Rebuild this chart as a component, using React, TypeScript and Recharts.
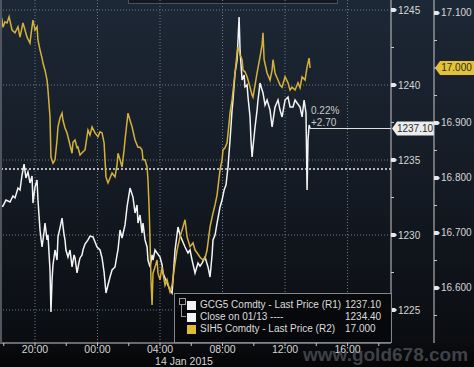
import { LineChart, Line, XAxis, YAxis, ReferenceLine } from 'recharts';

// hours relative to 00:00 on 14 Jan 2015
const goldTimes = [
  -6.24, -6.05, -5.86, -5.6, -5.41, -5.28, -5.09, -4.96, -4.83, -4.7, -4.58, -4.45, -4.32, -4.19, -4.13, -4.0,
  -3.87, -3.81, -3.68, -3.55, -3.42, -3.36, -3.23, -3.17, -3.04, -2.98, -2.91, -2.85, -2.72, -2.59, -2.53, -2.4,
  -2.27, -2.14, -2.08, -2.02, -1.89, -1.76, -1.63, -1.5, -1.44, -1.31, -1.18, -1.12, -0.99, -0.93, -0.8, -0.61,
  -0.48, -0.29, -0.16, -0.03, 0.16, 0.29, 0.42, 0.54, 0.67, 0.8, 0.93, 1.12, 1.25, 1.31, 1.44, 1.57, 1.76, 1.89,
  2.08, 2.27, 2.4, 2.53, 2.59, 2.72, 2.85, 2.91, 3.04, 3.17, 3.23, 3.36, 3.49, 3.55, 3.68, 3.81, 4.0, 4.13, 4.19,
  4.32, 4.45, 4.64, 4.77, 4.83, 4.96, 5.15, 5.28, 5.41, 5.6, 5.79, 5.92, 6.05, 6.24, 6.43, 6.56, 6.69, 6.88, 7.07,
  7.2, 7.33, 7.39, 7.52, 7.65, 7.84, 7.97, 8.1, 8.22, 8.35, 8.48, 8.61, 8.67, 8.8, 8.93, 8.99, 9.06, 9.12, 9.25,
  9.38, 9.44, 9.57, 9.63, 9.76, 9.82, 9.89, 9.95, 10.08, 10.21, 10.27, 10.4, 10.53, 10.59, 10.72, 10.85, 11.04,
  11.17, 11.36, 11.55, 11.68, 11.81, 12.0, 12.19, 12.32, 12.51, 12.64, 12.77, 12.96, 13.09, 13.22, 13.34, 13.41,
  13.47, 13.54, 13.6,
];
const goldPrices = [
  1231.87, 1231.93, 1232.33, 1232.2, 1232.6, 1232.47, 1233.13, 1233.0, 1234.0, 1234.73, 1233.8, 1234.2, 1233.47,
  1233.93, 1232.13, 1233.2, 1233.67, 1232.33, 1230.33, 1229.2, 1230.2, 1230.8, 1229.67, 1230.0, 1227.67, 1224.87,
  1227.0, 1228.0, 1229.0, 1228.33, 1229.87, 1230.47, 1231.13, 1230.0, 1229.67, 1229.0, 1228.53, 1229.0, 1227.87,
  1228.67, 1228.47, 1227.47, 1228.2, 1228.47, 1228.67, 1229.0, 1229.4, 1229.67, 1229.93, 1229.87, 1229.53, 1229.2,
  1229.0, 1228.47, 1227.53, 1226.13, 1226.67, 1227.2, 1227.67, 1227.87, 1228.67, 1229.0, 1230.33, 1229.8, 1230.67,
  1231.87, 1233.13, 1232.53, 1231.47, 1232.0, 1230.8, 1231.33, 1230.13, 1230.8, 1229.67, 1229.2, 1228.33, 1227.87,
  1228.67, 1228.33, 1229.0, 1228.8, 1228.53, 1228.0, 1227.47, 1227.13, 1226.8, 1226.33, 1226.13, 1227.0, 1229.0,
  1230.53, 1230.0, 1229.67, 1229.2, 1228.8, 1229.0, 1228.33, 1227.47, 1228.13, 1227.93, 1228.13, 1228.53, 1227.87,
  1227.2, 1228.67, 1229.67, 1230.0, 1230.8, 1231.87, 1232.33, 1233.0, 1233.33, 1234.53, 1236.33, 1238.33, 1239.0,
  1240.8, 1241.67, 1243.0, 1244.53, 1242.33, 1240.33, 1240.67, 1239.87, 1240.0, 1239.2, 1237.87, 1236.33, 1235.2,
  1235.87, 1237.2, 1238.33, 1239.0, 1240.13, 1239.67, 1239.47, 1238.67, 1239.0, 1238.33, 1237.2, 1238.53, 1239.0,
  1238.33, 1237.87, 1239.0, 1239.2, 1238.53, 1238.53, 1239.0, 1238.8, 1238.53, 1237.87, 1239.0, 1238.13, 1233.0,
  1236.33, 1237.33, 1237.1,
];

const silverTimes = [
  -6.24, -6.11, -6.05, -5.92, -5.79, -5.66, -5.47, -5.28, -5.09, -4.96, -4.77, -4.64, -4.51, -4.32, -4.26, -4.13,
  -4.0, -3.87, -3.81, -3.68, -3.55, -3.49, -3.36, -3.23, -3.17, -3.04, -2.98, -2.85, -2.72, -2.59, -2.53, -2.4,
  -2.27, -2.21, -2.08, -1.95, -1.89, -1.76, -1.63, -1.57, -1.44, -1.31, -1.25, -1.12, -0.99, -0.8, -0.61, -0.48,
  -0.35, -0.16, 0.03, 0.16, 0.29, 0.42, 0.54, 0.67, 0.8, 0.93, 1.12, 1.25, 1.31, 1.44, 1.57, 1.7, 1.76, 1.95, 2.08,
  2.21, 2.4, 2.59, 2.72, 2.85, 2.91, 3.04, 3.17, 3.23, 3.3, 3.36, 3.42, 3.49, 3.55, 3.68, 3.81, 3.87, 4.0, 4.13,
  4.19, 4.32, 4.45, 4.64, 4.77, 4.9, 5.09, 5.28, 5.47, 5.6, 5.73, 5.92, 6.11, 6.24, 6.37, 6.56, 6.75, 6.88, 7.01,
  7.2, 7.39, 7.52, 7.65, 7.84, 7.97, 8.03, 8.16, 8.29, 8.48, 8.61, 8.8, 8.93, 8.99, 9.12, 9.25, 9.31, 9.44, 9.57,
  9.76, 9.89, 9.95, 10.08, 10.21, 10.4, 10.53, 10.59, 10.66, 10.85, 11.04, 11.17, 11.23, 11.36, 11.55, 11.68, 11.81,
  12.0, 12.19, 12.32, 12.45, 12.64, 12.83, 12.96, 13.09, 13.28, 13.41, 13.54, 13.6,
];
const silverPrices = [
  17.078, 17.087, 17.074, 17.084, 17.082, 17.093, 17.069, 17.064, 17.075, 17.056, 17.082, 17.069, 17.056, 17.045,
  17.06, 17.087, 17.069, 17.075, 17.051, 17.033, 17.018, 17.009, 16.996, 16.978, 16.96, 16.911, 16.838, 16.827,
  16.833, 16.869, 16.893, 16.909, 16.918, 16.905, 16.891, 16.882, 16.875, 16.86, 16.845, 16.865, 16.869, 16.855,
  16.856, 16.842, 16.846, 16.851, 16.887, 16.878, 16.893, 16.882, 16.875, 16.884, 16.882, 16.864, 16.802, 16.791,
  16.8, 16.809, 16.802, 16.824, 16.845, 16.833, 16.82, 16.851, 16.869, 16.918, 16.905, 16.893, 16.869, 16.856,
  16.856, 16.851, 16.833, 16.833, 16.82, 16.796, 16.747, 16.687, 16.615, 16.569, 16.627, 16.638, 16.651, 16.627,
  16.615, 16.638, 16.627, 16.605, 16.615, 16.593, 16.605, 16.633, 16.669, 16.693, 16.711, 16.724, 16.693, 16.675,
  16.682, 16.669, 16.664, 16.656, 16.651, 16.654, 16.669, 16.711, 16.736, 16.751, 16.769, 16.815, 16.833, 16.851,
  16.855, 16.864, 16.918, 16.942, 16.991, 17.027, 17.038, 17.024, 17.015, 16.996, 16.993, 16.984, 16.965, 16.951,
  16.947, 16.969, 16.991, 17.02, 17.042, 17.064, 17.015, 16.991, 16.978, 16.996, 17.015, 16.991, 16.978, 16.969,
  16.965, 16.984, 16.973, 16.96, 16.965, 16.96, 16.973, 16.964, 16.984, 16.978, 17.002, 17.018, 17.0,
];

const hourTicks = [-6, -4, -2, 0, 2, 4, 6, 8, 10, 12, 14, 16, 18];
const hourLabels = [-4, 0, 4, 8, 12, 16];
const goldTicks = [1225, 1227.5, 1230, 1232.5, 1235, 1237.5, 1240, 1242.5, 1245];
const goldLabels = [1225, 1230, 1235, 1240, 1245];
const silverTicks = [16.55, 16.6, 16.65, 16.7, 16.75, 16.8, 16.85, 16.9, 16.95, 17.0, 17.05, 17.1];
const silverLabels = [16.6, 16.7, 16.8, 16.9, 17.1];

const goldLast = 1237.1;
const goldClose = 1234.4;
const silverLast = 17.0;
const goldChangePct = '0.22%';
const goldChange = '+2.70';
const dateLabel = '14 Jan 2015';

const legendRows = [
  { color: '#f2f2f2', name: 'GCG5 Comdty - Last Price (R1)', value: '1237.10' },
  { color: '#f2f2f2', name: 'Close on 01/13 ----', value: '1234.40' },
  { color: '#e0bd2e', name: 'SIH5 Comdty - Last Price (R2)', value: '17.000' },
];

const FONT = '"Liberation Sans", Arial, sans-serif';
const GOLD_LINE = '#f4f4f4';
const SILVER_LINE = '#d4b23a';
const GRID = '#6f7b89';

const gold = goldTimes.map((t, i) => ({ t, v: goldPrices[i] }));
const silver = silverTimes.map((t, i) => ({ t, v: silverPrices[i] }));

const has = (list: number[], v: number) => list.some((x) => Math.abs(x - v) < 1e-6);

function YTick(props: any) {
  const { x, y, payload, labels, fmt } = props;
  const v = payload.value;
  if (!has(labels, v)) {
    return <line x1={x} x2={x + 3} y1={y} y2={y} stroke="#c8c8c8" strokeWidth={1} />;
  }
  return (
    <g>
      <polygon points={`${x},${y - 2} ${x + 4},${y - 2} ${x + 6},${y} ${x + 4},${y + 2} ${x},${y + 2}`} fill="#e6e6e6" />
      <text x={x + 7} y={y + 3.5} fill="#d6d6d6" fontSize={10} fontFamily={FONT}>
        {fmt(v)}
      </text>
    </g>
  );
}

function XTick(props: any) {
  const { x, y, payload } = props;
  const h = payload.value;
  const major = hourLabels.includes(h);
  const hh = String(((h % 24) + 24) % 24).padStart(2, '0');
  return (
    <g>
      <line x1={x} x2={x} y1={y} y2={y + 3} stroke="#c8c8c8" />
      {major && (
        <text x={x} y={y + 10} textAnchor="middle" fill="#d6d6d6" fontSize={10.5} fontFamily={FONT}>
          {`${hh}:00`}
        </text>
      )}
    </g>
  );
}

function Badge(props: any) {
  const { viewBox, text, fill, dx, w } = props;
  const left = viewBox.x + viewBox.width + dx;
  const y = viewBox.y;
  return (
    <g>
      <polygon
        points={`${left},${y} ${left + 5},${y - 7} ${left + w},${y - 7} ${left + w},${y + 7} ${left + 5},${y + 7}`}
        fill={fill}
      />
      <text x={left + 4 + (w - 4) / 2} y={y + 3.5} textAnchor="middle" fill="#2a2a2a" fontSize={10} fontFamily={FONT}>
        {text}
      </text>
    </g>
  );
}

export default function App() {
  return (
    <div
      style={{
        position: 'relative',
        width: 474,
        height: 367,
        overflow: 'hidden',
        background: 'linear-gradient(180deg, #1d2836 0%, #151c26 45%, #0b0d11 93%, #050506 100%)',
        fontFamily: FONT,
      }}
    >
      <style>{'body{margin:0;background:#000}'}</style>
      <div style={{ position: 'absolute', left: 128, top: -10, width: 208, height: 12, border: '1px solid #4c535c', background: '#141920' }} />
      <LineChart width={474} height={367} data={gold} margin={{ top: 0, right: 0, bottom: 0, left: 0 }}>
        <XAxis
          dataKey="t"
          type="number"
          domain={[-6.24, 18.78]}
          allowDataOverflow
          ticks={hourTicks}
          interval={0}
          height={24}
          tickSize={0}
          tickMargin={0}
          stroke="#c8c8c8"
          tick={<XTick />}
        />
        <YAxis
          yAxisId="gold"
          orientation="right"
          type="number"
          domain={[1222.8, 1245.667]}
          allowDataOverflow
          ticks={goldTicks}
          interval={0}
          width={43}
          tickSize={0}
          tickMargin={0}
          stroke="#c8c8c8"
          tick={<YTick labels={goldLabels} fmt={(v: number) => String(v)} />}
        />
        <YAxis
          yAxisId="silver"
          orientation="right"
          type="number"
          domain={[16.5, 17.1236]}
          allowDataOverflow
          ticks={silverTicks}
          interval={0}
          width={40}
          tickSize={0}
          tickMargin={0}
          stroke="#c8c8c8"
          tick={<YTick labels={silverLabels} fmt={(v: number) => v.toFixed(3)} />}
        />
        {goldLabels.map((v) => (
          <ReferenceLine key={`gy${v}`} yAxisId="gold" y={v} stroke={GRID} strokeDasharray="1 2" />
        ))}
        {hourLabels.map((h) => (
          <ReferenceLine key={`gx${h}`} yAxisId="gold" x={h} stroke={GRID} strokeDasharray="1 2" />
        ))}
        <ReferenceLine yAxisId="gold" y={goldClose} stroke="#e8e8e8" strokeWidth={1.4} strokeDasharray="2 2" />
        <Line
          yAxisId="gold"
          data={gold}
          dataKey="v"
          type="linear"
          stroke={GOLD_LINE}
          strokeWidth={1.5}
          dot={false}
          activeDot={false}
          isAnimationActive={false}
        />
        <Line
          yAxisId="silver"
          data={silver}
          dataKey="v"
          type="linear"
          stroke={SILVER_LINE}
          strokeWidth={1.5}
          dot={false}
          activeDot={false}
          isAnimationActive={false}
        />
        <ReferenceLine
          yAxisId="gold"
          segment={[{ x: 13.6, y: goldLast }, { x: 18.78, y: goldLast }]}
          stroke="#e0e0e0"
          strokeWidth={1}
          label={<Badge text={goldLast.toFixed(2)} fill="#ececec" dx={1} w={42} />}
        />
        <ReferenceLine
          yAxisId="silver"
          y={silverLast}
          stroke="none"
          label={<Badge text={silverLast.toFixed(3)} fill="#e3c236" dx={44} w={39} />}
        />
      </LineChart>

      <div style={{ position: 'absolute', left: 0, top: 0, width: 2, height: 343, background: '#4f5660' }} />

      <div style={{ position: 'absolute', left: 311, top: 105, fontSize: 10, lineHeight: '12px', color: '#c9c9c9' }}>
        <div>{goldChangePct}</div>
        <div>{goldChange}</div>
      </div>

      <div
        style={{
          position: 'absolute',
          left: 174,
          top: 293,
          width: 216,
          height: 48,
          background: 'rgba(7,8,11,0.94)',
          border: '1px solid #80868f',
        }}
      >
        <div style={{ position: 'absolute', left: 4, top: 4, width: 5, height: 5, border: '1px solid #999' }} />
        <div style={{ position: 'absolute', left: 6, top: 11, width: 4, height: 11, borderLeft: '1px solid #999', borderBottom: '1px solid #999' }} />
        {legendRows.map((r, i) => (
          <div
            key={r.name}
            style={{
              position: 'absolute',
              left: 12,
              top: 5 + i * 12,
              display: 'flex',
              alignItems: 'center',
              fontSize: 10,
              lineHeight: '12px',
              color: '#dcdcdc',
              whiteSpace: 'nowrap',
            }}
          >
            <span style={{ display: 'inline-block', width: 9, height: 9, background: r.color, marginRight: 4 }} />
            <span style={{ width: 145 }}>{r.name}</span>
            <span>{r.value}</span>
          </div>
        ))}
      </div>

      <div style={{ position: 'absolute', left: 0, top: 355, width: 368, textAlign: 'center', fontSize: 10.5, color: '#d6d6d6' }}>
        {dateLabel}
      </div>

      <div
        style={{
          position: 'absolute',
          left: 303,
          top: 344,
          fontSize: 19,
          fontWeight: 'bold',
          color: 'rgba(110,116,128,0.55)',
          whiteSpace: 'nowrap',
        }}
      >
        www.gold678.com
      </div>
    </div>
  );
}
